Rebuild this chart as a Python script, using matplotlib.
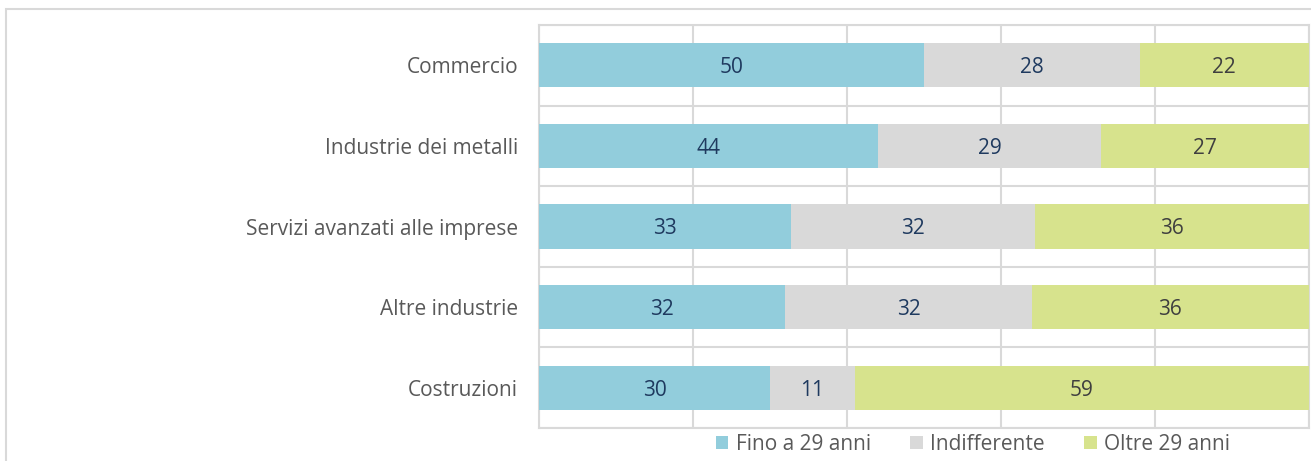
import numpy as np
import matplotlib.pyplot as plt
from matplotlib.patches import Rectangle

categories = ['Commercio', 'Industrie dei metalli', 'Servizi avanzati alle imprese',
              'Altre industrie', 'Costruzioni']
fino_29 = [50, 44, 33, 32, 30]
indifferente = [28, 29, 32, 32, 11]
oltre_29 = [22, 27, 36, 36, 59]
series_names = ['Fino a 29 anni', 'Indifferente', 'Oltre 29 anni']

colors = ['#92CDDC', '#D9D9D9', '#D7E38D']
label_colors = ['#1F3A5F', '#1F3A5F', '#3F3F3F']
grid_col = '#D9D9D9'

plt.rcParams['font.family'] = ['Open Sans', 'DejaVu Sans']

fig = plt.figure(figsize=(13.11, 4.61), dpi=100)
ax = fig.add_axes([539 / 1311, 1 - 428 / 461, 770 / 1311, 403 / 461])

vals = np.array([fino_29, indifferente, oltre_29], dtype=float)
shares = vals / vals.sum(axis=0) * 100
y = np.arange(len(categories))

left = np.zeros(len(categories))
for i in range(3):
    ax.barh(y, shares[i], left=left, height=0.55, color=colors[i],
            label=series_names[i], zorder=3)
    for j in range(len(categories)):
        ax.text(left[j] + shares[i][j] / 2, y[j] + 0.03, str(int(vals[i][j])),
                ha='center', va='center', fontsize=15, color=label_colors[i], zorder=4)
    left += shares[i]

ax.set_xlim(0, 100)
ax.set_ylim(len(categories) - 0.5, -0.5)
ax.set_xticks(np.arange(0, 101, 20))
ax.set_xticklabels([])
ax.set_yticks(y)
ax.set_yticklabels(categories, fontsize=15, color='#595959')
ax.set_yticks(np.arange(-0.5, len(categories), 1), minor=True)
ax.tick_params(axis='both', length=0, pad=15)
ax.tick_params(axis='y', which='minor', length=0)
ax.grid(axis='x', color=grid_col, linewidth=1.5, zorder=0)
ax.grid(axis='y', which='minor', color=grid_col, linewidth=1.5, zorder=0)
for s in ax.spines.values():
    s.set_color(grid_col)
    s.set_linewidth(1.5)

ax.legend(loc='center', bbox_to_anchor=(973 / 1311, 1 - 444 / 461),
          bbox_transform=fig.transFigure, ncol=3, frameon=False, fontsize=15,
          handlelength=0.6, handleheight=0.6, handletextpad=0.35, columnspacing=1.9,
          labelcolor='#595959')

# chart outer frame
fig.patches.append(Rectangle((6 / 1311, -0.1), 1.2, 1 - 9 / 461 + 0.1,
                             transform=fig.transFigure, fill=False,
                             edgecolor=grid_col, linewidth=1.5))

fig.savefig('out.png', dpi=100)
